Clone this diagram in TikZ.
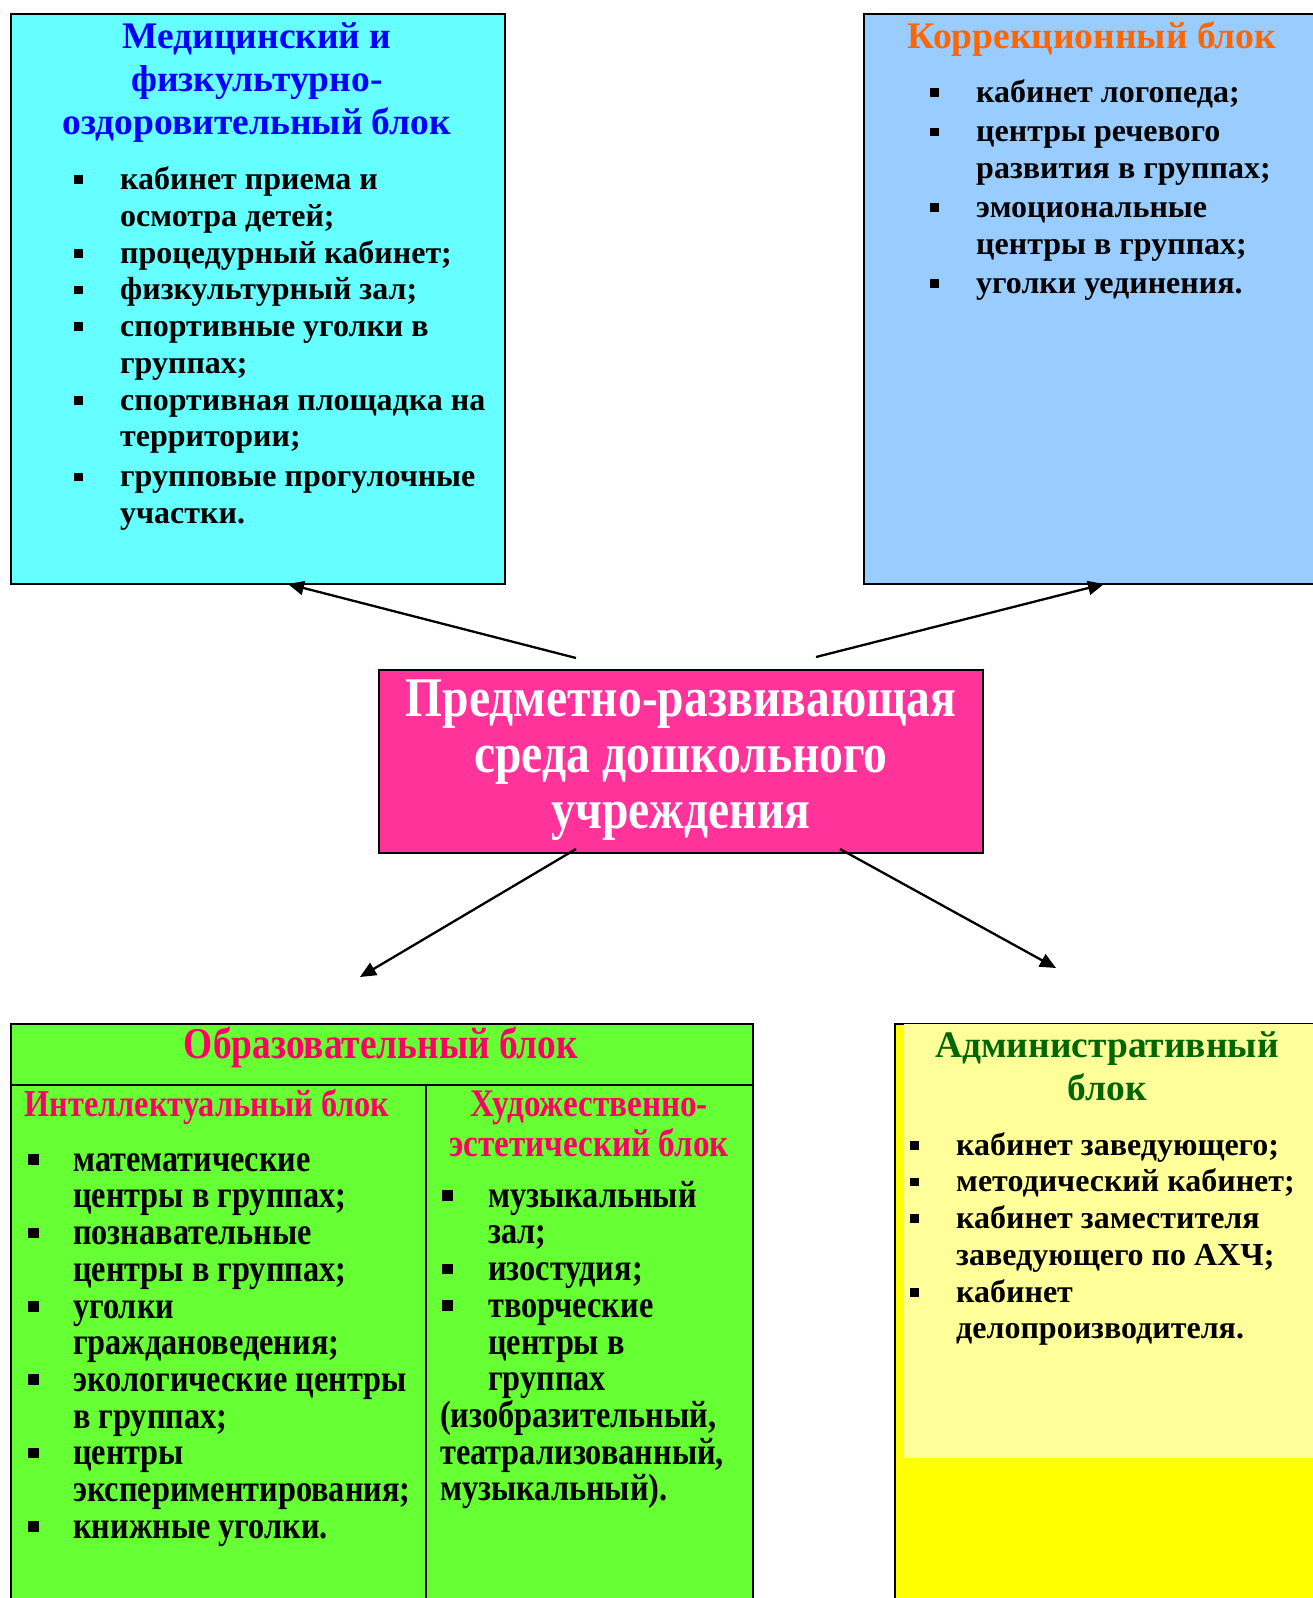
\documentclass[tikz,border=0pt]{standalone}
\usepackage{fontspec}
\setmainfont{Liberation Serif}
\newfontfamily\condf[FakeStretch=0.85]{Liberation Serif}
\usetikzlibrary{arrows.meta}
\definecolor{medc}{HTML}{66FFFF}
\definecolor{corc}{HTML}{99CCFF}
\definecolor{cenc}{HTML}{FF3399}
\definecolor{educ}{HTML}{66FF33}
\definecolor{admc}{HTML}{FFFF00}
\definecolor{admin}{HTML}{FFFF99}
\definecolor{titblue}{HTML}{0000FF}
\definecolor{titorange}{HTML}{FF6600}
\definecolor{titred}{HTML}{FF0066}
\definecolor{titgreen}{HTML}{006600}
\newlength\hi
\newlength\bo
\newcommand\bsq{\raisebox{0.17em}{\rule{0.28em}{0.28em}}}
\newcommand\li[1]{\par\hangindent=\hi\hangafter=1\noindent\makebox[\hi][l]{\strut\hspace{\bo}\bsq}#1}
\tikzset{
  blockbox/.style={draw=black, line width=2pt, inner sep=0pt, anchor=north west},
  ttl/.style={inner sep=0pt, font=\fontsize{37.5}{43}\selectfont\bfseries},
  lst/.style={inner sep=0pt, anchor=north west, text width=#1, align=flush left, font=\fontsize{32}{36.7}\selectfont\bfseries},
  clst/.style={inner sep=0pt, anchor=north west, text width=#1, align=flush left, font=\fontsize{38}{36.7}\selectfont\condf\bfseries},
  arr/.style={line width=2.3pt, -{Triangle[length=16pt,width=14pt]}},
  sep/.style={draw=black, line width=2pt}
}
\begin{document}
\begin{tikzpicture}[x=1pt,y=-1pt]
\useasboundingbox (0,0) rectangle (1312,1598);
% boxes
\node[blockbox, fill=medc, minimum width=494pt, minimum height=570pt] (med) at (10,13) {};
\node[blockbox, fill=corc, minimum width=470pt, minimum height=570pt] (cor) at (863,13) {};
\node[draw=black, line width=2pt, fill=cenc, minimum width=604pt, minimum height=183pt, inner sep=0pt, align=flush center, text=white, font=\fontsize{56}{56}\selectfont\condf\bfseries] (cen) at (681,761.5) {\strut Предметно-развивающая\\среда дошкольного\\\strut учреждения};
\node[blockbox, fill=educ, minimum width=742pt, minimum height=620pt] (edu) at (10,1023) {};
\node[blockbox, fill=admc, minimum width=440pt, minimum height=620pt] (adm) at (894,1023) {};
\fill[admin] (904,1024) rectangle (1330,1458);
% separators in edu
\coordinate (hl) at (10,1085);
\coordinate (hr) at (752,1085);
\coordinate (vt) at (426,1085);
\coordinate (vb) at (426,1640);
\draw[sep] (hl) -- (hr);
\draw[sep] (vt) -- (vb);
% medical
\node[ttl, text=titblue, align=flush center, anchor=north] (medt) at (257,17.9) {\strut Медицинский и\\физкультурно-\\оздоровительный блок};
\node[lst=440pt] (medl) at (74,152.9) {\setlength\hi{46pt}\setlength\bo{0pt}%
\li{кабинет приема и\newline осмотра детей;}
\li{процедурный кабинет;}
\li{физкультурный зал;}
\li{спортивные уголки в\newline группах;}
\li{спортивная площадка на\newline территории;}
\par\vspace{3.5pt}
\li{групповые прогулочные\newline участки.}\par};
% correction
\node[ttl, text=titorange, anchor=base] (cort) at (1092,48) {Коррекционный блок};
\node[lst=380pt] (corl) at (930,63.3) {\setlength\hi{46pt}\setlength\bo{0pt}\setlength\parskip{2.5pt}%
\li{кабинет логопеда;}
\li{центры речевого\newline развития в группах;}
\li{эмоциональные\newline центры в группах;}
\li{уголки уединения.}\par};
% education
\node[inner sep=0pt, anchor=base, text=titred, font=\fontsize{44}{44}\selectfont\condf\bfseries] (edut) at (381,1058) {Образовательный блок};
\node[inner sep=0pt, anchor=base west, text=titred, font=\fontsize{38}{36}\selectfont\condf\bfseries] (intt) at (24.5,1116) {Интеллектуальный блок};
\node[inner sep=0pt, anchor=north, align=flush center, text=titred, font=\fontsize{39}{35.6}\selectfont\condf\bfseries] (artt) at (589,1091.1) {\strut Художественно-\\эстетический блок};
\node[clst=395pt] (intl) at (28,1134.3) {\setlength\hi{45pt}\setlength\bo{0pt}%
\li{математические\newline центры в группах;}
\li{познавательные\newline центры в группах;}
\li{уголки\newline граждановедения;}
\li{экологические центры\newline в группах;}
\li{центры\newline экспериментирования;}
\li{книжные уголки.}\par};
\node[clst=310pt] (artl) at (440,1170.3) {\setlength\hi{48pt}\setlength\bo{2pt}%
\li{музыкальный\newline зал;}
\li{изостудия;}
\li{творческие\newline центры в\newline группах}
\par\noindent(изобразительный,\newline театрализованный,\newline музыкальный).\par};
% administrative
\node[ttl, text=titgreen, align=flush center, anchor=north] (admt) at (1107,1026.9) {\strut Административный\\блок};
\node[lst=395pt] (adml) at (910,1118.3) {\setlength\hi{46pt}\setlength\bo{0pt}%
\li{кабинет заведующего;}
\li{методический кабинет;}
\li{кабинет заместителя\newline заведующего по АХЧ;}
\li{кабинет\newline делопроизводителя.}\par};
% arrows
\coordinate (a1s) at (576,658);
\coordinate (a1e) at (288,584);
\coordinate (a2s) at (816,657);
\coordinate (a2e) at (1104,584);
\coordinate (a3s) at (576,849);
\coordinate (a3e) at (360,977);
\coordinate (a4s) at (840,849);
\coordinate (a4e) at (1056,968);
\draw[arr] (a1s) -- (a1e);
\draw[arr] (a2s) -- (a2e);
\draw[arr] (a3s) -- (a3e);
\draw[arr] (a4s) -- (a4e);
\end{tikzpicture}
\end{document}
